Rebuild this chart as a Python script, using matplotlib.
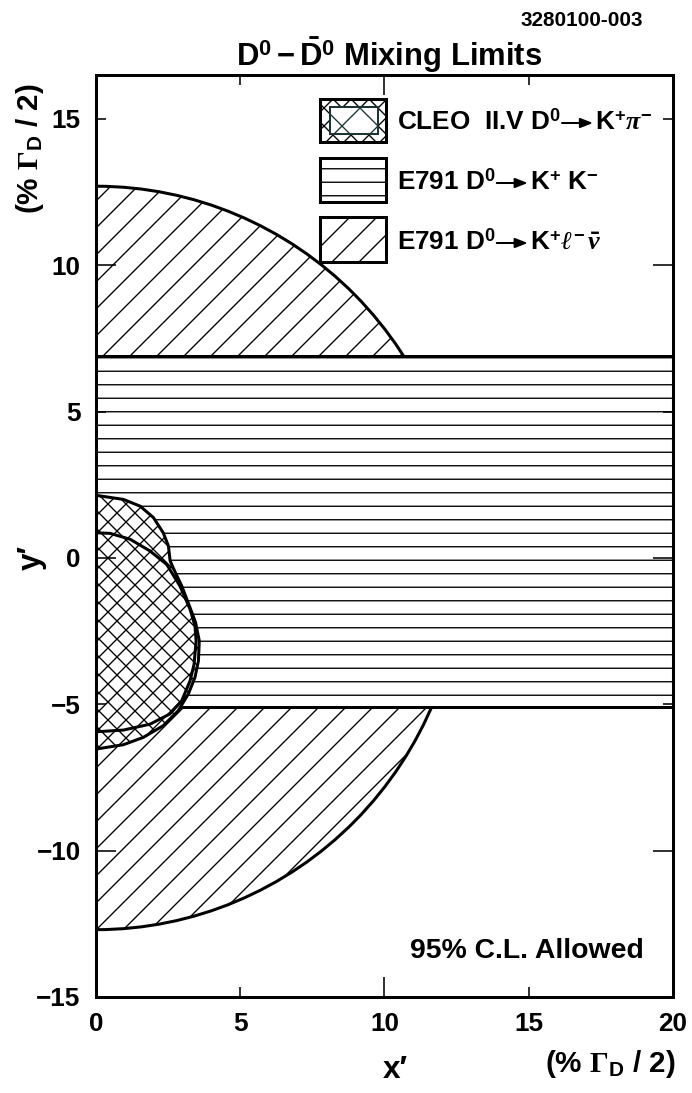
import matplotlib
matplotlib.use("Agg")
import numpy as np
import matplotlib.pyplot as plt
from matplotlib import font_manager
from matplotlib.patches import Circle, Rectangle, Polygon, FancyArrowPatch, ArrowStyle
from matplotlib.transforms import IdentityTransform
from matplotlib.ticker import MultipleLocator, FuncFormatter

# values (x', y' in units of % Gamma_D / 2)
klnu_radius = 12.7          # E791 D0 -> K+ l- nubar, allowed disc
kk_ylow = -5.1              # E791 D0 -> K+ K-, allowed band in y'
kk_yhigh = 6.9

cleo_outer_x = [0.0, 0.95, 1.53, 1.99, 2.33, 2.51, 2.57, 2.75, 2.97, 3.28, 3.45,
                3.58, 3.55, 3.43, 3.20, 2.85, 2.33, 1.64, 0.95, 0.0]
cleo_outer_y = [2.14, 2.00, 1.77, 1.38, 0.86, 0.41, -0.10, -0.50, -0.95, -1.75, -2.20,
                -2.83, -3.52, -4.08, -4.65, -5.22, -5.73, -6.13, -6.38, -6.53]
cleo_inner_x = [0.0, 0.49, 1.18, 1.87, 2.45, 2.91, 3.26, 3.43, 3.47, 3.40, 3.26,
                2.97, 2.56, 1.87, 0.95, 0.0]
cleo_inner_y = [0.86, 0.84, 0.64, 0.24, -0.22, -0.96, -1.75, -2.32, -2.83, -3.63, -4.20,
                -4.88, -5.33, -5.68, -5.88, -5.94]

# legend text: part before the decay arrow, part after it
legend_left = [r"CLEO  II.V D$^{0}$", r"E791 D$^{0}$", r"E791 D$^{0}$"]
legend_right = [r"K$^{+}\pi^{-}$", r"K$^{+}$ K$^{-}$", r"K$^{+}\ell^{-}\,\bar{\nu}$"]
legend_hatches = ["xxxxxx", "----", "////"]

W, H, DPI = 692, 1093, 324


def have_font(name):
    try:
        font_manager.findfont(font_manager.FontProperties(family=name),
                              fallback_to_default=False)
        return True
    except ValueError:
        return False


narrow = "Liberation Sans Narrow" if have_font("Liberation Sans Narrow") else "Liberation Sans"

plt.rcParams["font.family"] = ["Liberation Sans", "DejaVu Sans"]
plt.rcParams["font.weight"] = "bold"
plt.rcParams["mathtext.fontset"] = "custom"
plt.rcParams["mathtext.rm"] = "Liberation Sans:bold"
plt.rcParams["mathtext.bf"] = "Liberation Sans:bold"
plt.rcParams["mathtext.it"] = "Liberation Serif:italic"
plt.rcParams["mathtext.sf"] = "Liberation Serif"
plt.rcParams["hatch.linewidth"] = 0.3
plt.rcParams["axes.unicode_minus"] = True

LW = 0.67  # ~3 px at 324 dpi


def fx(px):
    return px / W


def fy(py):
    return 1 - py / H


fig = plt.figure(figsize=(W / DPI, H / DPI), dpi=DPI)
renderer = fig.canvas.get_renderer()
ax = fig.add_axes([fx(96), fy(997), fx(673) - fx(96), fy(75) - fy(997)])
ax.set_xlim(0, 20)
ax.set_ylim(-15, 16.5)

disc = Circle((0, 0), klnu_radius, facecolor="white", edgecolor="black",
              hatch=legend_hatches[2], lw=LW, zorder=1)
band = Rectangle((0, kk_ylow), 20, kk_yhigh - kk_ylow, facecolor="white",
                 edgecolor="black", hatch=legend_hatches[1], lw=LW, zorder=1.1)
cleo = Polygon(np.column_stack([cleo_outer_x, cleo_outer_y]), closed=True,
               facecolor="white", edgecolor="black", hatch=legend_hatches[0], lw=LW,
               joinstyle="round", zorder=1.2)
for p in (disc, band, cleo):
    ax.add_patch(p)
ax.plot(cleo_inner_x, cleo_inner_y, color="black", lw=LW, zorder=1.3,
        solid_joinstyle="round")

fmt = FuncFormatter(lambda v, pos: f"{v:g}".replace("-", "\u2212"))
for axis in (ax.xaxis, ax.yaxis):
    axis.set_major_locator(MultipleLocator(10))
    axis.set_minor_locator(MultipleLocator(5))
    axis.set_major_formatter(fmt)
    axis.set_minor_formatter(fmt)
ax.tick_params(which="both", direction="in", top=True, right=True,
               labelsize=5.8, width=0.35, pad=3.4)
ax.tick_params(which="major", length=4.4)
ax.tick_params(which="minor", length=2.2)
for s in ax.spines.values():
    s.set_linewidth(LW)
    s.set_zorder(5)

# legend drawn by hand, boxes in pixel coordinates
boxes = [(320, 99, 386, 142), (320, 158, 386, 202), (320, 217, 386, 262)]
baselines = [130, 190, 250]
arrow_style = ArrowStyle("-|>", head_length=2.3, head_width=0.9)
for (x0, y0, x1, y1), hatch, left, right, yb in zip(boxes, legend_hatches, legend_left,
                                                     legend_right, baselines):
    r = Rectangle((fx(x0), fy(y1)), fx(x1) - fx(x0), fy(y0) - fy(y1),
                  transform=fig.transFigure, facecolor="white", edgecolor="black",
                  hatch=hatch, lw=LW)
    fig.add_artist(r)
    t1 = fig.text(fx(397), fy(yb), left, fontsize=5.8, ha="left", va="baseline")
    xa0 = t1.get_window_extent(renderer).x1 + 1
    xa1 = xa0 + 31
    ya = (H - yb) + 7
    fig.add_artist(FancyArrowPatch((xa0, ya), (xa1, ya), transform=IdentityTransform(),
                                   arrowstyle=arrow_style, mutation_scale=1,
                                   lw=0.45, color="black", shrinkA=0, shrinkB=0))
    fig.text(fx(xa1 + 2), fy(yb), right, fontsize=5.8, ha="left", va="baseline")
inner = Rectangle((fx(330), fy(134)), fx(378) - fx(330), fy(107) - fy(134),
                  transform=fig.transFigure, facecolor="white", edgecolor="#1c3434",
                  hatch="xxx", lw=0.45)
fig.add_artist(inner)

fig.text(fx(527), fy(958), "95% C.L. Allowed", fontsize=6.3, ha="center", va="baseline")

fig.text(fx(389), fy(66), r"$\mathrm{D}^{0} - \bar{\mathrm{D}}^{0}$ Mixing Limits",
         family=[narrow, "DejaVu Sans"], fontsize=6.9, ha="center", va="baseline")
fig.text(fx(582), fy(26), "3280100-003", family=[narrow, "DejaVu Sans"],
         fontsize=4.6, ha="center", va="baseline")

fig.text(fx(395), fy(1078), "x\u2032", family=[narrow, "DejaVu Sans"],
         fontsize=7.0, ha="center", va="baseline")
fig.text(fx(676), fy(1072), r"(% $\mathsf{\Gamma}_{\mathrm{D}}$ / 2)",
         family=[narrow, "DejaVu Sans"], fontsize=6.6, ha="right", va="baseline")
fig.text(fx(32), fy(557), "y\u2032", family=[narrow, "DejaVu Sans"],
         fontsize=7.0, rotation=90, ha="center", va="center")
fig.text(fx(30), fy(149), r"(% $\mathsf{\Gamma}_{\mathrm{D}}$ / 2)",
         family=[narrow, "DejaVu Sans"], fontsize=6.6, rotation=90,
         ha="center", va="center")

fig.savefig("out.png", dpi=DPI)
